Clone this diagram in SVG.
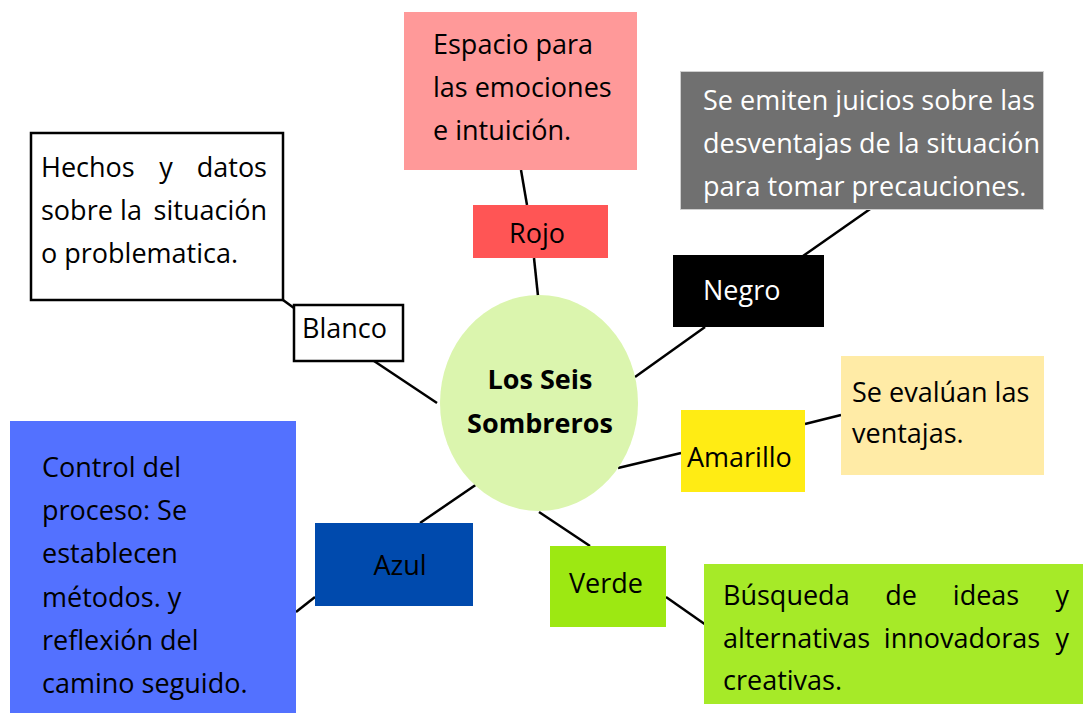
<svg xmlns="http://www.w3.org/2000/svg" width="1083" height="713" viewBox="0 0 1083 713">
<style>
text{font-family:"Open Sans","Noto Sans","DejaVu Sans",sans-serif;font-size:27px;fill:#000}
.w{fill:#fff}
.b{font-weight:bold}
.c{text-anchor:middle}
.e{text-anchor:end}
#connectors line{stroke:#000;stroke-width:2.5}
</style>
<rect width="1083" height="713" fill="#fff"/>
<g id="connectors">
<line x1="521" y1="170" x2="527" y2="205"/>
<line x1="534" y1="258" x2="538" y2="296"/>
<line x1="873" y1="207" x2="803" y2="256"/>
<line x1="705" y1="327" x2="635" y2="377"/>
<line x1="283" y1="300" x2="294" y2="308"/>
<line x1="374" y1="361" x2="437" y2="403"/>
<line x1="618" y1="468" x2="681" y2="453"/>
<line x1="805" y1="424" x2="841" y2="415"/>
<line x1="420" y1="523" x2="477" y2="484"/>
<line x1="315" y1="597" x2="296" y2="612"/>
<line x1="539" y1="512" x2="590" y2="546"/>
<line x1="666" y1="597" x2="706" y2="625"/>
</g>
<g id="center">
<ellipse cx="539" cy="403" rx="99" ry="108" fill="#DBF5AE"/>
<text class="b c" x="540" y="389">Los Seis</text>
<text class="b c" x="540" y="433">Sombreros</text>
</g>
<g id="rojo-desc">
<rect x="404" y="12" width="233" height="158" fill="#FF9999"/>
<text x="433" y="54">Espacio para</text>
<text x="433" y="97">las emociones</text>
<text x="433" y="140">e intuición.</text>
</g>
<g id="rojo">
<rect x="473" y="205" width="135" height="53" fill="#FF5555"/>
<text class="c" x="537" y="243">Rojo</text>
</g>
<g id="negro-desc">
<rect x="680.5" y="71.5" width="363" height="138" fill="#707070" stroke="#cfcfcf" stroke-width="1"/>
<text class="w" x="703" y="110">Se emiten juicios sobre las</text>
<text class="w" x="703" y="153">desventajas de la situación</text>
<text class="w" x="703" y="196">para tomar precauciones.</text>
</g>
<g id="negro">
<rect x="673" y="255" width="151" height="72" fill="#000"/>
<text class="w" x="703" y="300">Negro</text>
</g>
<g id="blanco-desc">
<rect x="31" y="133" width="252" height="167" fill="#fff" stroke="#000" stroke-width="2.5"/>
<text x="41" y="177">Hechos</text>
<text class="c" x="166" y="177">y</text>
<text class="e" x="267" y="177">datos</text>
<text x="41" y="220">sobre</text>
<text class="c" x="131" y="220">la</text>
<text class="e" x="267" y="220">situación</text>
<text x="41" y="263">o problematica.</text>
</g>
<g id="blanco">
<rect x="294" y="305" width="109" height="56" fill="#fff" stroke="#000" stroke-width="2.5"/>
<text x="302" y="338">Blanco</text>
</g>
<g id="amarillo">
<rect x="681" y="410" width="124" height="82" fill="#FFEC14"/>
<text x="687" y="467">Amarillo</text>
</g>
<g id="amarillo-desc">
<rect x="841" y="356" width="203" height="119" fill="#FFEBA6"/>
<text x="852" y="402">Se evalúan las</text>
<text x="852" y="443">ventajas.</text>
</g>
<g id="azul">
<rect x="315" y="523" width="158" height="83" fill="#004AAD"/>
<text class="c" x="400" y="575">Azul</text>
</g>
<g id="azul-desc">
<rect x="10" y="421" width="286" height="292" fill="#5371FF"/>
<text x="42" y="477">Control del</text>
<text x="42" y="520">proceso: Se</text>
<text x="42" y="563">establecen</text>
<text x="42" y="607">métodos. y</text>
<text x="42" y="650">reflexión del</text>
<text x="42" y="693">camino seguido.</text>
</g>
<g id="verde">
<rect x="550" y="546" width="116" height="81" fill="#9DE812"/>
<text x="569" y="593">Verde</text>
</g>
<g id="verde-desc">
<rect x="704" y="564" width="379" height="140" fill="#A6EA28"/>
<text x="723" y="605">Búsqueda</text>
<text class="c" x="901" y="605">de</text>
<text class="c" x="986" y="605">ideas</text>
<text class="e" x="1069" y="605">y</text>
<text x="723" y="648">alternativas</text>
<text class="c" x="962" y="648">innovadoras</text>
<text class="e" x="1069" y="648">y</text>
<text x="723" y="690">creativas.</text>
</g>
</svg>
